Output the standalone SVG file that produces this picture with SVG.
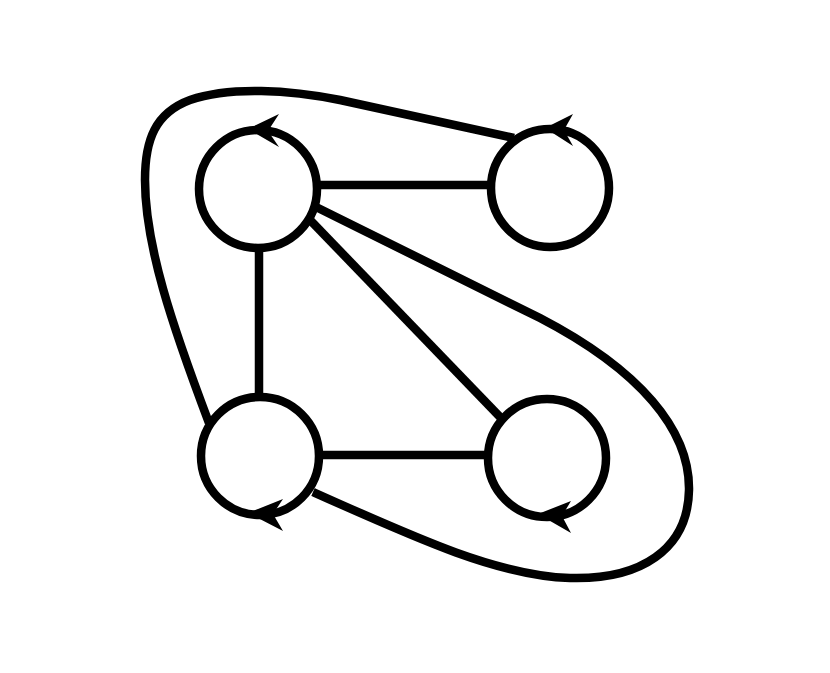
<svg xmlns="http://www.w3.org/2000/svg" width="830" height="673" viewBox="0 0 830 673">
<style>
.n{fill:none;stroke:#000;stroke-width:8.5}
.e{fill:none;stroke:#000;stroke-width:8.5;stroke-linecap:butt}
.a{fill:#000;stroke:none}
</style>
<rect width="830" height="673" fill="#fff"/>
<g id="connectors">
<line class="e" x1="316" y1="185" x2="491" y2="185"/>
<line class="e" x1="320" y1="455" x2="488" y2="455"/>
<line class="e" x1="259" y1="247" x2="259" y2="398"/>
<line class="e" x1="311" y1="221" x2="501" y2="418"/>
<path class="e" d="M 316 207 L 540 318 C 640 370 690 430 689 490 C 688 550 640 580 570 578 C 500 576 420 540 313 492"/>
<path class="e" d="M 514 138 L 340 100 C 290 90 230 86 190 100 C 155 113 145 140 145 180 C 145 245 172 325 209 423"/>
</g>
<g id="n1"><circle class="n" cx="258" cy="189" r="59"/><path class="a" d="M248 129 L279 114 L268 131 L279 147 Z"/></g>
<g id="n2"><circle class="n" cx="550" cy="188" r="59"/><path class="a" d="M545 128 L573 114 L564 130 L573 146 Z"/></g>
<g id="n3"><circle class="n" cx="260" cy="456" r="59"/><path class="a" d="M248 513 L283 499 L273 514 L283 531 Z"/></g>
<g id="n4"><circle class="n" cx="547" cy="458" r="59"/><path class="a" d="M538 514 L571 501 L562 516 L571 533 Z"/></g>
</svg>
